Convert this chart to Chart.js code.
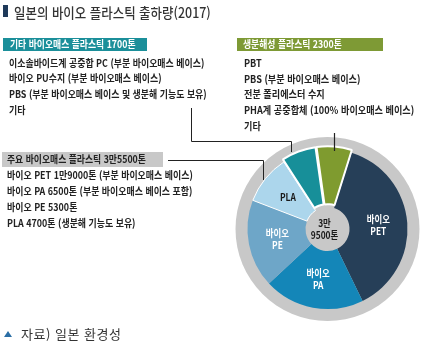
<!DOCTYPE html>
<html lang="ko">
<head>
<meta charset="utf-8">
<script src="https://cdn.jsdelivr.net/npm/chart.js@4.4.0/dist/chart.umd.min.js"></script>
<style>
  html, body { margin: 0; padding: 0; background: #fff; }
  body { width: 431px; height: 347px; position: relative; overflow: hidden;
         font-family: "Noto Sans CJK KR", "Noto Sans", sans-serif; color: #111; }
  .t { position: absolute; white-space: nowrap; transform-origin: 0 50%; }
  .box { position: absolute; }
  #chartWrap { position: absolute; left: 227px; top: 129px; width: 201px; height: 200px; }
  #lines { position: absolute; left: 0; top: 0; }
</style>
</head>
<body>
<div id="chartWrap"><canvas id="myChart"></canvas></div>
<svg id="lines" width="431" height="347"></svg>

<script>
// 데이터
const sliceLabels = ['바이오\nPET', '바이오\nPA', '바이오\nPE', 'PLA', '', ''];
// slice sizes as they are drawn in the graphic (degrees)
const sliceDeg = [136.5, 73, 64, 36, 25, 25.5];
const centerText = ['3만', '9500톤'];

const titleText = '일본의 바이오 플라스틱 출하량(2017)';
const sourceText = '자료) 일본 환경성';

const otherHead = '기타 바이오매스 플라스틱 1700톤';
const otherItems = [
  '이소솔바이드계 공중합 PC (부분 바이오매스 베이스)',
  '바이오 PU수지 (부분 바이오매스 베이스)',
  'PBS (부분 바이오매스 베이스 및 생분해 기능도 보유)',
  '기타'
];
const bioHead = '생분해성 플라스틱 2300톤';
const bioItems = [
  'PBT',
  'PBS (부분 바이오매스 베이스)',
  '전분 폴리에스터 수지',
  'PHA계 공중합체 (100% 바이오매스 베이스)',
  '기타'
];
const mainHead = '주요 바이오매스 플라스틱 3만5500톤';
const mainItems = [
  '바이오 PET 1만9000톤 (부분 바이오매스 베이스)',
  '바이오 PA 6500톤 (부분 바이오매스 베이스 포함)',
  '바이오 PE 5300톤',
  'PLA 4700톤 (생분해 기능도 보유)'
];

// 텍스트 배치
function addText(text, x, cy, size, opts) {
  opts = opts || {};
  const d = document.createElement('div');
  d.className = 't';
  d.textContent = text;
  d.style.left = x + 'px';
  d.style.top = (cy - size / 2) + 'px';
  d.style.fontSize = size + 'px';
  d.style.lineHeight = size + 'px';
  d.style.fontWeight = opts.weight || 'normal';
  d.style.color = opts.color || '#111';
  d.style.transform = 'scaleX(' + (opts.sx || 1) + ')';
  if (opts.ls) d.style.letterSpacing = opts.ls + 'px';
  document.body.appendChild(d);
}
function addBox(x, y, w, h, color) {
  const b = document.createElement('div');
  b.className = 'box';
  b.style.cssText = `left:${x}px;top:${y}px;width:${w}px;height:${h}px;background:${color}`;
  document.body.appendChild(b);
}

// title
addBox(3, 5, 5, 12, '#1f3a5a');
addText(titleText, 14, 12, 14, { sx: 0.89, color: '#333', weight: 500 });

// 기타 바이오매스
addBox(3, 38, 144, 13, '#1b8f9a');
addText(otherHead, 10, 44.5, 10.5, { sx: 0.84, color: '#fff', weight: 'bold' });
otherItems.forEach((s, i) => addText(s, 9, 63 + i * 15.7, 10.5, { sx: 0.85, weight: 'bold', color: '#222' }));

// 생분해성
addBox(237, 38, 146, 13, '#7e9a35');
addText(bioHead, 243, 44.5, 10.5, { sx: 0.84, color: '#fff', weight: 'bold' });
bioItems.forEach((s, i) => addText(s, 244, 63 + i * 15.8, 10.5, { sx: 0.87, weight: 'bold', color: '#222' }));

// 주요 바이오매스
addBox(2, 152, 161, 15, '#c8c8c8');
addText(mainHead, 7, 159.5, 10.5, { sx: 0.84, color: '#222', weight: 'bold' });
mainItems.forEach((s, i) => addText(s, 7, 175.5 + i * 16, 10.5, { sx: 0.85, weight: 'bold', color: '#222' }));

// source
addText(sourceText, 21, 333, 13, { color: '#333', ls: 0.5 });

// leader lines + source triangle
const svg = document.getElementById('lines');
svg.innerHTML =
  '<polyline points="191.5,108 191.5,141.5 291.5,141.5 291.5,152" fill="none" stroke="#222" stroke-width="1"/>' +
  '<polyline points="168,160.5 263.5,160.5 263.5,180" fill="none" stroke="#222" stroke-width="1"/>' +
  '<line x1="334.5" y1="133" x2="334.5" y2="151" stroke="#222" stroke-width="1.2"/>' +
  '<polygon points="4,337 8,331 12,337" fill="#2b6ea5"/>';

// 도넛 차트
const ringPlugin = {
  id: 'ring',
  beforeDatasetsDraw(chart) {
    const arc = chart.getDatasetMeta(0).data[0];
    const ctx = chart.ctx;
    ctx.save();
    ctx.fillStyle = '#c8c8c8';
    ctx.beginPath();
    ctx.arc(arc.x, arc.y, 92, 0, Math.PI * 2);
    ctx.fill();
    ctx.restore();
  },
  afterDatasetsDraw(chart) {
    const ctx = chart.ctx;
    const meta = chart.getDatasetMeta(0);
    const labelColors = ['#fff', '#fff', '#fff', '#1a1a1a', '#fff', '#fff'];
    ctx.save();
    ctx.textAlign = 'center';
    ctx.textBaseline = 'middle';
    ctx.font = 'bold 10.5px "Noto Sans CJK KR"';
    meta.data.forEach((arc, i) => {
      if (!sliceLabels[i]) return;
      const p = arc.getProps(['x', 'y', 'startAngle', 'endAngle', 'innerRadius', 'outerRadius'], true);
      const mid = (p.startAngle + p.endAngle) / 2;
      const r = (p.innerRadius + p.outerRadius) / 2;
      const cx = p.x + Math.cos(mid) * r;
      const cy = p.y + Math.sin(mid) * r;
      const lines = sliceLabels[i].split('\n');
      ctx.fillStyle = labelColors[i];
      lines.forEach((ln, j) => {
        const y = cy + (j - (lines.length - 1) / 2) * 12;
        ctx.save();
        ctx.translate(cx, y);
        ctx.scale(0.8, 1);
        ctx.fillText(ln, 0, 0);
        ctx.restore();
      });
    });
    const a0 = meta.data[0];
    ctx.fillStyle = '#1a1a1a';
    centerText.forEach((ln, j) => {
      ctx.save();
      ctx.translate(a0.x - 3, a0.y + (j - 0.5) * 12);
      ctx.scale(0.8, 1);
      ctx.fillText(ln, 0, 0);
      ctx.restore();
    });
    ctx.restore();
  }
};

const ctx = document.getElementById('myChart').getContext('2d');
const myChart = new Chart(ctx, {
  type: 'doughnut',
  data: {
    labels: sliceLabels,
    datasets: [{
      data: sliceDeg,
      backgroundColor: ['#263f58', '#1486b8', '#6ea6c8', '#acd6ec', '#178f99', '#7f9b2f'],
      borderColor: '#fff',
      borderWidth: [0, 0, 0, 1, 2, 2],
      offset: [0, 0, 0, 0, 7, 7]
    }]
  },
  options: {
    responsive: true,
    maintainAspectRatio: false,
    animation: false,
    events: [],
    rotation: 17.5,
    radius: 80,
    cutout: '27.5%',
    layout: { padding: 0 },
    plugins: {
      legend: { display: false },
      tooltip: { enabled: false }
    }
  },
  plugins: [ringPlugin]
});
</script>
</body>
</html>
